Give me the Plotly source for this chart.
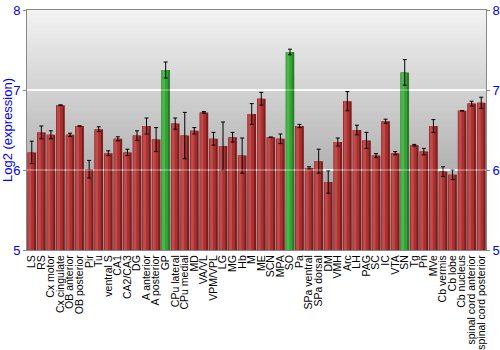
import plotly.graph_objects as go

regions = ["LS", "RS", "Cx motor", "Cx cingulate", "OB anterior", "OB posterior", "Pir", "Tu",
           "ventral S", "CA1", "CA2/CA3", "DG", "A anterior", "A posterior", "GP", "CPu lateral",
           "CPu medial", "MD", "VA/VL", "VPM/VPL", "LG", "MG", "Hb", "M", "ME", "SCN", "MPA", "SO",
           "Pa", "SPa ventral", "SPa dorsal", "DM", "VMH", "Arc", "LH", "PAG", "SC", "IC", "VTA", "SN",
           "Tg", "Pn", "MVe", "Cb vermis", "Cb lobe", "Cb nucleus", "spinal cord anterior",
           "spinal cord posterior"]
expression = [6.22, 6.47, 6.44, 6.81, 6.44, 6.55, 6.01, 6.51,
              6.21, 6.39, 6.22, 6.43, 6.55, 6.38, 7.25, 6.58,
              6.43, 6.49, 6.72, 6.39, 6.30, 6.41, 6.18, 6.70, 6.89, 6.41, 6.39, 7.475,
              6.55, 6.025, 6.11, 5.85, 6.35, 6.86, 6.50, 6.37, 6.18, 6.61, 6.21, 7.22,
              6.31, 6.23, 6.55, 5.98, 5.94, 6.74, 6.83, 6.84]
error = [0.14, 0.08, 0.05, 0.005, 0.02, 0.0, 0.11, 0.03,
         0.03, 0.025, 0.04, 0.06, 0.10, 0.15, 0.10, 0.07,
         0.29, 0.04, 0.01, 0.08, 0.30, 0.06, 0.22, 0.13, 0.08, 0.0, 0.06, 0.035,
         0.02, 0.015, 0.15, 0.14, 0.05, 0.12, 0.06, 0.10, 0.025, 0.025, 0.02, 0.16,
         0.01, 0.04, 0.08, 0.06, 0.06, 0.0, 0.03, 0.07]
highlighted = ["GP", "SO", "SN"]
y_ticks = [5, 6, 7, 8]
grid_values = [6, 7]

base_c = ["#2a7a2a" if r in highlighted else "#7e1c1c" for r in regions]
mid_c = ["#36a036" if r in highlighted else "#a83232" for r in regions]
hi_c = ["#48b848" if r in highlighted else "#c24a4a" for r in regions]

fig = go.Figure()
fig.add_bar(x=regions, y=expression, width=0.9, offset=-0.45,
            marker=dict(color=base_c, line=dict(width=0)), hoverinfo="skip")
fig.add_bar(x=regions, y=expression, width=0.66, offset=-0.42,
            marker=dict(color=mid_c, line=dict(width=0)), hoverinfo="skip")
fig.add_bar(x=regions, y=expression, width=0.3, offset=-0.36,
            marker=dict(color=hi_c, line=dict(width=0)), hoverinfo="skip")
fig.add_scatter(x=regions, y=expression, mode="markers",
                marker=dict(size=1, opacity=0),
                error_y=dict(type="data", array=error, color="black", thickness=1, width=2),
                hoverinfo="skip")
fig.add_scatter(x=regions, y=expression, yaxis="y2", mode="markers",
                marker=dict(size=1, opacity=0), hoverinfo="skip")

# vertical gray gradient background
n = 60
top = (242, 242, 242)
bot = (146, 146, 146)
shapes = []
for i in range(n):
    t = i / (n - 1)
    c = tuple(int(round(top[k] + (bot[k] - top[k]) * t)) for k in range(3))
    shapes.append(dict(type="rect", xref="paper", yref="paper", x0=0, x1=1,
                       y0=1 - (i + 1) / n, y1=1 - i / n + 0.001,
                       fillcolor="rgb(%d,%d,%d)" % c, line=dict(width=0), layer="below"))
# faint gridline showing through bars
for g in grid_values:
    shapes.append(dict(type="line", xref="paper", yref="y", x0=0, x1=1, y0=g, y1=g,
                       line=dict(color="rgba(255,255,255,0.35)", width=1.5), layer="above"))

fig.update_layout(
    width=500, height=350,
    margin=dict(l=27, r=14, t=10, b=100),
    paper_bgcolor="white", plot_bgcolor="rgba(0,0,0,0)",
    barmode="overlay", showlegend=False,
    shapes=shapes,
    font=dict(family="Liberation Sans, Arial, sans-serif"),
    xaxis=dict(tickangle=-90, tickfont=dict(size=10.5, color="black"), showgrid=False,
               tickmode="array", tickvals=regions, ticktext=regions, automargin=False,
               showline=True, linecolor="#888888", mirror=True, ticks="",
               range=[-0.5, len(regions) - 0.5]),
    yaxis=dict(range=[5, 8], tickvals=y_ticks, tickfont=dict(size=13, color="#0000ff"),
               title=dict(text="Log2 (expression)", font=dict(size=13, color="#0000ff"), standoff=2),
               showgrid=True, gridcolor="rgba(255,255,255,0.85)", gridwidth=1.5, automargin=False,
               showline=True, linecolor="#888888", ticks="outside", ticklen=3,
               tickcolor="#888888", zeroline=False),
    yaxis2=dict(range=[5, 8], tickvals=y_ticks, tickfont=dict(size=13, color="#0000ff"),
                overlaying="y", side="right", showgrid=False, showline=True, automargin=False,
                linecolor="#888888", ticks="outside", ticklen=3, tickcolor="#888888",
                zeroline=False),
)

fig.write_html("out.html")
